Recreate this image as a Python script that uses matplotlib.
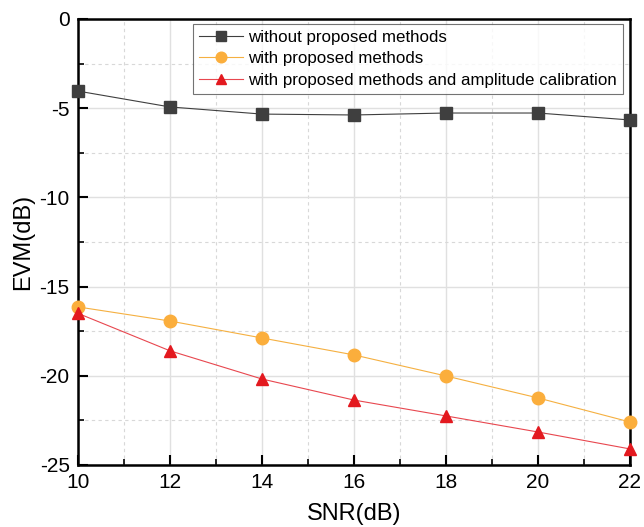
import numpy as np
import matplotlib
matplotlib.use('Agg')
import matplotlib.pyplot as plt
from matplotlib.ticker import MultipleLocator

plt.rcParams['font.family'] = ['Liberation Sans', 'DejaVu Sans']
plt.rcParams['axes.unicode_minus'] = False

snr = [10, 12, 14, 16, 18, 20, 22]
evm_without = [-4.04, -4.93, -5.33, -5.38, -5.27, -5.27, -5.66]
evm_with = [-16.14, -16.93, -17.88, -18.83, -20.01, -21.24, -22.59]
evm_with_cal = [-16.5, -18.6, -20.18, -21.36, -22.25, -23.15, -24.1]

labels = ['without proposed methods',
          'with proposed methods',
          'with proposed methods and amplitude calibration']

fig = plt.figure(figsize=(6.44, 5.27), dpi=100)
ax = fig.add_axes([78/644, 1 - 465/527, (630-78)/644, (465-19)/527])

ax.plot(snr, evm_without, color='#3f3f3f', lw=0.8, marker='s', ms=8,
        markerfacecolor='#3f3f3f', markeredgecolor='#3f3f3f', label=labels[0], clip_on=False, zorder=3)
ax.plot(snr, evm_with, color='#f5b041', lw=0.8, marker='o', ms=9,
        markerfacecolor='#fbae3c', markeredgecolor='#fbae3c', label=labels[1], clip_on=False, zorder=3)
ax.plot(snr, evm_with_cal, color='#e8474f', lw=0.8, marker='^', ms=9,
        markerfacecolor='#e3191f', markeredgecolor='#e3191f', label=labels[2], clip_on=False, zorder=3)

ax.set_xlim(10, 22)
ax.set_ylim(-25, 0)
ax.xaxis.set_major_locator(MultipleLocator(2))
ax.xaxis.set_minor_locator(MultipleLocator(1))
ax.yaxis.set_major_locator(MultipleLocator(5))
ax.yaxis.set_minor_locator(MultipleLocator(2.5))

ax.grid(which='major', color='#e0e0e0', lw=1.0, ls='-')
ax.grid(which='minor', color='#d8d8d8', lw=0.8, ls=(0, (3, 3)))
ax.set_axisbelow(True)

for s in ax.spines.values():
    s.set_linewidth(1.8)
ax.tick_params(which='major', direction='in', length=7, width=1.5, labelsize=15,
               top=False, right=False, pad=6)
ax.tick_params(which='minor', direction='in', length=4, width=1.2, top=False, right=False)

ax.set_xlabel('SNR(dB)', fontsize=17, labelpad=8)
ax.set_ylabel('EVM(dB)', fontsize=17, labelpad=4)

# legend box placed like the original (right edge ~623px, top ~24px)
leg = ax.legend(loc='upper right', bbox_to_anchor=(623/644, 1 - 24/527),
                bbox_transform=fig.transFigure, fontsize=12.2, frameon=True,
                fancybox=False, edgecolor='#505050', borderpad=0.35, labelspacing=0.38,
                handlelength=2.6, handletextpad=0.3, borderaxespad=0, markerscale=0.85)
leg.get_frame().set_linewidth(0.8)

fig.savefig('out.png', dpi=100)
